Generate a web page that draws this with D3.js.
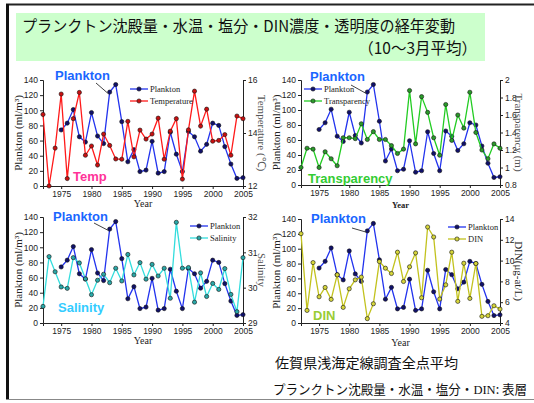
<!DOCTYPE html>
<html>
<head>
<meta charset="utf-8">
<script src="https://cdn.jsdelivr.net/npm/d3@7"></script>
<style>
body { margin: 0; background: #fff; }
</style>
</head>
<body>
<div id="chart"></div>
<script>
var years = [1972, 1973, 1974, 1975, 1976, 1977, 1978, 1979, 1980, 1981,
    1982, 1983, 1984, 1985, 1986, 1987, 1988, 1989, 1990, 1991,
    1992, 1993, 1994, 1995, 1996, 1997, 1998, 1999, 2000, 2001,
    2002, 2003, 2004, 2005];
var yearTicks = [1975, 1980, 1985, 1990, 1995, 2000, 2005];

// plankton settling volume (ml/m3), no data before 1975
var plankton = [null, null, null, 74, 83, 101, 65, 58, 97, 66,
    56, 124, 134, 85, 32, 48, 19, 21, 59, 17,
    19, 71, 42, 19, 72, 65, 46, 55, 83, 80,
    52, 29, 10, 11];
var planktonTicks = [0, 20, 40, 60, 80, 100, 120, 140];

var temperature = [14.70, 12.00, 13.43, 15.47, 12.28, 14.54, 15.53, 13.16, 13.51, 12.79,
    13.96, 13.53, 13.02, 13.01, 14.44, 13.10, 14.11, 13.77, 13.96, 14.56,
    13.01, 14.07, 14.54, 12.26, 14.12, 15.58, 14.26, 14.90, 13.69, 13.72,
    13.94, 13.16, 14.64, 14.54];
var temperatureTicks = [12, 14, 16];

var transparency = [1.00, 1.22, 1.21, 1.00, 1.18, 1.10, 1.02, 1.34, 1.34, 1.33,
    1.50, 1.32, 1.41, 1.32, 1.32, 1.25, 1.16, 1.21, 1.88, 1.27,
    1.81, 1.63, 1.34, 1.14, 1.72, 1.31, 1.60, 1.45, 1.86, 1.40,
    1.20, 1.10, 1.27, 1.22];
var transparencyTicks = [0.8, 1, 1.2, 1.4, 1.6, 1.8, 2];

var salinity = [29.47, 30.88, 30.45, 30.02, 29.98, 30.85, 30.70, 30.25, 29.80, 30.21,
    30.38, 30.14, 30.55, 30.19, 30.94, 30.36, 30.71, 30.24, 30.66, 30.33,
    30.55, 29.70, 31.85, 30.55, 30.57, 29.59, 30.42, 29.75, 30.12, 29.95,
    30.54, 29.81, 29.32, 30.85];
var salinityTicks = [29, 30, 31, 32];

var din = [12.59, 5.21, 9.81, 6.52, 7.42, 6.27, 8.63, 5.50, 7.29, 8.15,
    8.41, 4.42, 5.85, 9.91, 9.27, 8.76, 10.81, 7.99, 9.40, 10.74,
    6.43, 13.23, 12.27, 6.30, 7.67, 10.81, 6.08, 9.75, 6.36, 9.72,
    4.64, 4.70, 5.66, 5.34];
var dinTicks = [4, 6, 8, 10, 12, 14];

var titleLines = ["プランクトン沈殿量・水温・塩分・DIN濃度・透明度の経年変動", "（10〜3月平均）"];
var footLines = ["佐賀県浅海定線調査全点平均", "プランクトン沈殿量・水温・塩分・", "DIN", ": 表層"];

var SANS = "Liberation Sans, Arial, sans-serif";
var SERIF = "Liberation Serif, Times New Roman, serif";
var CJK = "Noto Sans CJK JP, sans-serif";

var planktonStyle = { name: "Plankton", line: "#2233ee", dot: "#10106a" };

var panels = [
    { left: 43, right: 243, top: 80, bottom: 186,
      series: temperature, ticks: temperatureTicks, name: "Temperature",
      line: "#ff1a1a", dot: "#c81010", rightTitle: "Temperature (℃)", rightColor: "#555",
      tag: "Temp", tagColor: "#ff3399", tagX: 73, tagY: 181,
      bigX: 55, bigY: 80, leader: [96, 83],
      legendX: 130, legendY: 89, yearY: 207, yearBold: false },
    { left: 301, right: 500, top: 80, bottom: 185,
      series: transparency, ticks: transparencyTicks, name: "Transparency",
      line: "#22cc22", dot: "#2a9a2a", rightTitle: "Transparency (m)", rightColor: "#555",
      tag: "Transparency", tagColor: "#33cc33", tagX: 308, tagY: 183,
      bigX: 310, bigY: 81, leader: [351, 85],
      legendX: 304, legendY: 89, yearY: 208, yearBold: true },
    { left: 43, right: 243, top: 217, bottom: 323,
      series: salinity, ticks: salinityTicks, name: "Salinity",
      line: "#33dddd", dot: "#2aa8a8", rightTitle: "Salinity", rightColor: "#555",
      tag: "Salinity", tagColor: "#33ccff", tagX: 58, tagY: 312,
      bigX: 53, bigY: 221, leader: [94, 223],
      legendX: 190, legendY: 226, yearY: 344, yearBold: false },
    { left: 301, right: 500, top: 219, bottom: 323,
      series: din, ticks: dinTicks, name: "DIN",
      line: "#c2c21e", dot: "#d6d63a", rightTitle: "DIN(μg-at/L)", rightColor: "#222",
      tag: "DIN", tagColor: "#99cc33", tagX: 313, tagY: 320,
      bigX: 311, bigY: 223, leader: [352, 228],
      legendX: 448, legendY: 227, yearY: 346, yearBold: false }
];

var svg = d3.select("#chart").append("svg")
    .attr("width", 534)
    .attr("height", 403);

// slide frame
svg.append("line").attr("x1", 6).attr("x2", 534).attr("y1", 4.5).attr("y2", 4.5)
    .attr("stroke", "#222").attr("stroke-width", 2);
svg.append("line").attr("x1", 7.5).attr("x2", 7.5).attr("y1", 4).attr("y2", 400)
    .attr("stroke", "#111").attr("stroke-width", 3);
svg.append("line").attr("x1", 6).attr("x2", 534).attr("y1", 399.5).attr("y2", 399.5)
    .attr("stroke", "#888").attr("stroke-width", 1);

// title box
svg.append("rect").attr("x", 16).attr("y", 13).attr("width", 469).attr("height", 48)
    .attr("fill", "#ccffcc");
svg.append("text").attr("x", 22).attr("y", 32)
    .attr("textLength", 433).attr("lengthAdjust", "spacingAndGlyphs")
    .style("font-family", CJK).style("font-size", "15.5px").attr("fill", "#111")
    .text(titleLines[0]);
svg.append("text").attr("x", 477).attr("y", 54).attr("text-anchor", "end")
    .style("font-family", CJK).style("font-size", "15.5px").attr("fill", "#111")
    .text(titleLines[1]);

function drawSeries(g, x, y, values, style) {
    var pts = years.map(function (d, i) { return [d, values[i]]; })
        .filter(function (d) { return d[1] != null; });

    g.append("path")
        .datum(pts)
        .attr("fill", "none")
        .attr("stroke", style.line)
        .attr("stroke-width", 1.3)
        .attr("d", d3.line()
            .x(function (d) { return x(d[0]); })
            .y(function (d) { return y(d[1]); }));

    g.append("g").selectAll("circle")
        .data(pts)
        .enter().append("circle")
        .attr("cx", function (d) { return x(d[0]); })
        .attr("cy", function (d) { return y(d[1]); })
        .attr("r", 2.1)
        .attr("fill", style.dot)
        .attr("stroke", "#111")
        .attr("stroke-width", 0.6);
}

function legendRow(g, lx, ly, style) {
    g.append("line").attr("x1", lx).attr("x2", lx + 18).attr("y1", ly).attr("y2", ly)
        .attr("stroke", style.line).attr("stroke-width", 1.3);
    g.append("circle").attr("cx", lx + 9).attr("cy", ly).attr("r", 2.1)
        .attr("fill", style.dot).attr("stroke", "#111").attr("stroke-width", 0.6);
    g.append("text").attr("x", lx + 20).attr("y", ly + 3)
        .style("font-family", SERIF).style("font-size", "8.5px").attr("fill", "#222")
        .text(style.name);
}

function styleAxis(a) {
    a.select(".domain").attr("stroke", "#222");
    a.selectAll(".tick line").attr("stroke", "#222");
    a.selectAll("text").style("font-family", SANS).style("font-size", "8.5px")
        .attr("fill", "#222");
}

function drawPanel(p) {
    var g = svg.append("g");
    var x = d3.scaleLinear().domain([1972, 2005]).range([p.left, p.right]);
    var yL = d3.scaleLinear().domain([0, 140]).range([p.bottom, p.top]);
    var yR = d3.scaleLinear().domain([p.ticks[0], p.ticks[p.ticks.length - 1]])
        .range([p.bottom, p.top]);

    var ax = g.append("g").attr("transform", "translate(0," + p.bottom + ")")
        .call(d3.axisBottom(x).tickValues(yearTicks).tickFormat(d3.format("d"))
            .tickSizeOuter(0).tickSize(3).tickPadding(2));
    styleAxis(ax);
    var al = g.append("g").attr("transform", "translate(" + p.left + ",0)")
        .call(d3.axisLeft(yL).tickValues(planktonTicks).tickSizeOuter(0).tickSize(3).tickPadding(2));
    styleAxis(al);
    var ar = g.append("g").attr("transform", "translate(" + p.right + ",0)")
        .call(d3.axisRight(yR).tickValues(p.ticks).tickFormat(d3.format("~g"))
            .tickSizeOuter(0).tickSize(3).tickPadding(2));
    styleAxis(ar);

    // axis titles
    g.append("text")
        .attr("transform", "translate(" + (p.left - 21) + "," + ((p.top + p.bottom) / 2) + ") rotate(-90)")
        .attr("text-anchor", "middle")
        .style("font-family", SERIF).style("font-size", "11px").attr("fill", "#222")
        .text("Plankton (ml/m³)");
    g.append("text")
        .attr("transform", "translate(" + (p.right + 15) + "," + ((p.top + p.bottom) / 2) + ") rotate(90)")
        .attr("text-anchor", "middle")
        .style("font-family", SERIF).style("font-size", "11px").attr("fill", p.rightColor)
        .text(p.rightTitle);
    g.append("text")
        .attr("x", (p.left + p.right) / 2).attr("y", p.yearY)
        .attr("text-anchor", "middle")
        .style("font-family", SERIF).style("font-size", p.yearBold ? "8.5px" : "10px")
        .style("font-weight", p.yearBold ? "bold" : "normal").attr("fill", "#222")
        .text("Year");

    drawSeries(g, x, yL, plankton, planktonStyle);
    drawSeries(g, x, yR, p.series, p);

    legendRow(g, p.legendX, p.legendY, planktonStyle);
    legendRow(g, p.legendX, p.legendY + 12, p);

    // callout pointing at the 1983 plankton value
    g.append("line")
        .attr("x1", p.leader[0]).attr("y1", p.leader[1])
        .attr("x2", x(1983) - 2).attr("y2", yL(plankton[years.indexOf(1983)]) + 1)
        .attr("stroke", "#111").attr("stroke-width", 0.8);
    g.append("text").attr("x", p.bigX).attr("y", p.bigY)
        .style("font-family", SANS).style("font-size", "13px").style("font-weight", "bold")
        .attr("fill", "#1a66ff").text("Plankton");
    g.append("text").attr("x", p.tagX).attr("y", p.tagY)
        .style("font-family", SANS).style("font-size", "13px").style("font-weight", "bold")
        .attr("fill", p.tagColor).text(p.tag);
}

panels.forEach(drawPanel);

// footnote
svg.append("text").attr("x", 275).attr("y", 368)
    .attr("textLength", 183).attr("lengthAdjust", "spacingAndGlyphs")
    .style("font-family", CJK).style("font-size", "14px").attr("fill", "#111")
    .text(footLines[0]);
var foot2 = svg.append("text").attr("x", 273).attr("y", 394)
    .attr("textLength", 254).attr("lengthAdjust", "spacingAndGlyphs")
    .style("font-family", CJK).style("font-size", "13px").attr("fill", "#111");
foot2.append("tspan").text(footLines[1]);
foot2.append("tspan").style("font-family", SERIF).text(footLines[2]);
foot2.append("tspan").text(footLines[3]);
</script>
</body>
</html>
